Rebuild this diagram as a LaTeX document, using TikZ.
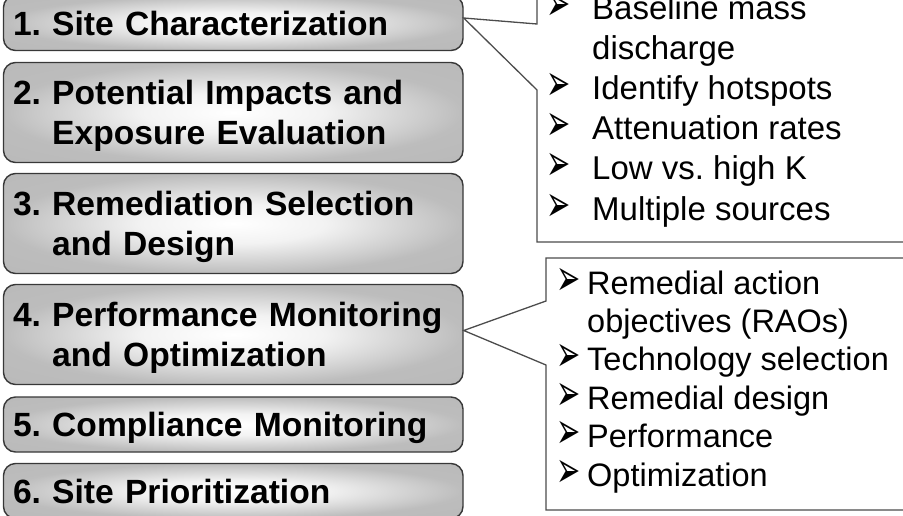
\documentclass[tikz,border=0pt]{standalone}
\usepackage{fontspec}
\setmainfont{Liberation Sans}
\newfontfamily\dvs{DejaVu Sans}
\frenchspacing
\pgfdeclareradialshading{boxsh}{\pgfpoint{0bp}{0bp}}{color(0bp)=(white); color(10bp)=(white!95!black); color(25bp)=(black!26); color(50bp)=(black!29)}
\newcommand{\blt}[1]{\makebox[#1][l]{\raisebox{-1pt}{\scalebox{0.85}[1.5]{\dvs\fontsize{34}{34}\selectfont ➢}}}}
\begin{document}
\begin{tikzpicture}[x=1pt,y=-1pt,
  stage/.style={draw=black!78, line width=1.4pt, rounded corners=12pt, shading=boxsh,
    inner xsep=9.5pt, inner ysep=0pt, text width=440.5pt, align=left,
    minimum width=459.5pt, text height=24pt,
    font=\fontsize{33.6}{40.3}\selectfont\bfseries\frenchspacing},
  oneline/.style={stage, minimum height=55pt, text depth=0pt},
  twoline/.style={stage, minimum height=100pt, text depth=40.3pt},
  callout/.style={draw=black!70, line width=1.3pt, line join=miter},
  notes/.style={inner sep=0pt, anchor=base west, align=left}
]
\useasboundingbox (0,0) rectangle (903,515);

\node[oneline] (b1) at (233.25,23) {1. Site Characterization};
\node[twoline] (b2) at (233.25,112.5) {\begin{tabular}[t]{@{}l@{\ }l@{}}2.&Potential Impacts and\\&Exposure Evaluation\end{tabular}};
\node[twoline] (b3) at (233.25,223.5) {\begin{tabular}[t]{@{}l@{\ }l@{}}3.&Remediation Selection\\&and Design\end{tabular}};
\node[twoline] (b4) at (233.25,334.5) {\begin{tabular}[t]{@{}l@{\ }l@{}}4.&Performance Monitoring\\&and Optimization\end{tabular}};
\node[oneline] (b5) at (233.25,424.5) {5. Compliance Monitoring};
\node[oneline] (b6) at (233.25,491) {6. Site Prioritization};

% callout for stage 1
\coordinate (t1) at ([yshift=5pt]b1.east);
\draw[callout] (537,-10) -- (537,24) -- (t1) -- (537,90) -- (537,242) -- (915,242);
% callout for stage 4
\coordinate (t4) at ([yshift=4pt]b4.east);
\draw[callout] (915,258) -- (546,258) -- (546,301) -- (t4) -- (546,365) -- (546,510) -- (915,510);

\node[notes, font=\fontsize{33}{40.2}\selectfont\frenchspacing] (n1) at (546,19) {\begin{tabular}[t]{@{}l@{}l@{}}
\blt{46pt}&Baseline mass\\
&discharge\\
\blt{46pt}&Identify hotspots\\
\blt{46pt}&Attenuation rates\\
\blt{46pt}&Low vs. high K\\
\blt{46pt}&Multiple sources
\end{tabular}};

\node[notes, font=\fontsize{32.5}{38.4}\selectfont\frenchspacing] (n2) at (556,294) {\begin{tabular}[t]{@{}l@{}l@{}}
\blt{31pt}&Remedial action\\
&objectives (RAOs)\\
\blt{31pt}&Technology selection\\
\blt{31pt}&Remedial design\\
\blt{31pt}&Performance\\
\blt{31pt}&Optimization
\end{tabular}};
\end{tikzpicture}
\end{document}
